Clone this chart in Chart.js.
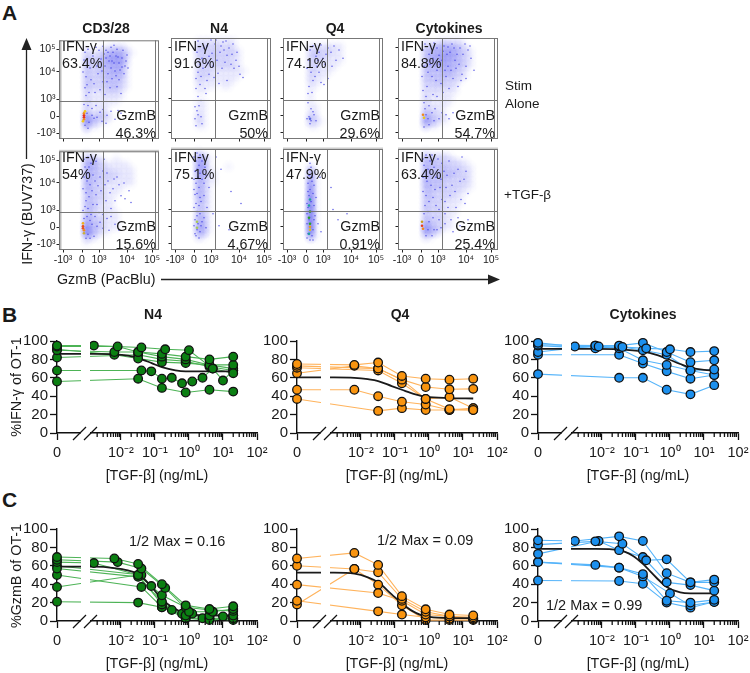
<!DOCTYPE html>
<html>
<head>
<meta charset="utf-8">
<title>TGF-b titration</title>
<style>
html,body{margin:0;padding:0;background:#fff;overflow:hidden;}
#fig{position:relative;width:750px;height:673px;font-family:"Liberation Sans",Arial,sans-serif;color:#1a1a1a;}
#fig canvas{position:absolute;}
#fig svg{position:absolute;left:0;top:0;}
.t{position:absolute;white-space:nowrap;line-height:1;}
</style>
<script src="https://cdn.jsdelivr.net/npm/chart.js@4"></script>
</head>
<body>
<div id="fig"></div>
<script>
// ==========================================================
// Panel A: flow plots. Channels run 0-100 on both axes,
// density rows are read top to bottom, 5 channels per cell
// ==========================================================

const flowTickX = [4,23,40,68,93];
const flowTickY = [6,23,40,68,91];
const flowTickLabels = ["-10³","0","10³","10⁴","10⁵"];
const flowGateX = 44;
const flowGateY = 39;

const ifnLabels = ["63.4%","91.6%","74.1%","84.8%","54%","75.1%","47.9%","63.4%"];
const gzmLabels = ["46.3%","50%","29.6%","54.7%","15.6%","4.67%","0.91%","25.4%"];

const densCd3Stim = ["00000000000000000000","00000100112221000000","00000211234442100000","00000322345552000000","00000322345552000000","00000322334441000000","00000322334441000000","00000322233331000000","00000322233321000000","00000322223321000000","00000211122210000000","00000211111110000000","00000211111100000000","00000211110000000000","00000311210000000000","00000633321000000000","00000743110000000000","00000411000000000000","00000100000000000000","00000000000000000000"];
const densN4Stim = ["00000111111110000000","00000222221210000000","00000322222221000000","00000222322221000000","00000232222211000000","00000222222221000000","00000222111111100000","00000222111111000000","00000211111110000000","00000111101100000000","00000110000000000000","00000000000000000000","00000110000000000000","00000110000000000000","00000110000000000000","00000210000000000000","00000210000000000000","00000110000000000000","00000000000000000000","00000000000000000000"];
const densQ4Stim = ["00000000000000000000","00000111111100000000","00000222221100000000","00000232211100000000","00000222111100000000","00000221111000000000","00000221110000000000","00000211100000000000","00000211000000000000","00000110000000000000","00000100000000000000","00000100000000000000","00000100000000000000","00000110000000000000","00000110000000000000","00000320000000000000","00000321000000000000","00000110000000000000","00000000000000000000","00000000000000000000"];
const densCytoStim = ["00000100111110000000","00000223343321000000","00000334445432100000","00000344555432100000","00000344554432100000","00000344444332100000","00000333344321000000","00000333333221000000","00000323322210000000","00000222222100000000","00000212111100000000","00000211111000000000","00000211111000000000","00000211110000000000","00000322100000000000","00000532210000000000","00000643110000000000","00000311000000000000","00000000000000000000","00000000000000000000"];
const densCd3Tgf = ["00000100000000000000","00000332100100000000","00000443211111000000","00000443221111100000","00000433222211100000","00000433222111100000","00000432211111100000","00000432211110000000","00000332211100000000","00000332211000000000","00000332111000000000","00000332111000000000","00000331111100000000","00000432211100000000","00000533211100000000","00000743211100000000","00000843110000000000","00000321000000000000","00000100000000000000","00000000000000000000"];
const densN4Tgf = ["00000100000000000000","00000431000000000000","00000541000000000000","00000551000100000000","00000541100000000000","00000441100000000000","00000431100000000000","00000431000000000000","00000431000000000000","00000431000000000000","00000331000000000000","00000321000000000000","00000331000000000000","00000431000000000000","00000441000000000000","00000541000000000000","00000441000000000000","00000210000000000000","00000000000000000000","00000000000000000000"];
const densQ4Tgf = ["00000000000000000000","00000000000000000000","00000000000000000000","00000200000000000000","00000410000000000000","00000510000000000000","00000610000000000000","00000710000000000000","00000710000000000000","00000810000000000000","00000810000000000000","00000810000000000000","00000910000000000000","00000910000000000000","00000910000000000000","00000910000000000000","00000810000000000000","00000410000000000000","00000000000000000000","00000000000000000000"];
const densCytoTgf = ["00000100000000000000","00000322221000000000","00000433222211000000","00000433332221100000","00000433333322100000","00000433333222100000","00000433322222100000","00000433322221100000","00000332222211000000","00000332222110000000","00000322211110000000","00000322211100000000","00000322211100000000","00000322211000000000","00000432211000000000","00000743211000000000","00000543100000000000","00000210000000000000","00000000000000000000","00000000000000000000"];

const dotsCd3Stim = [[26,88],[31,72],[28,55],[37,93],[42,81],[47,90],[51,84],[55,77],[58,91],[61,70],[49,66],[44,58],[36,47],[63,82],[66,74],[53,61],[27,44],[33,31],[41,27],[48,24],[56,20],[30,17],[62,26],[39,66],[46,74],[52,93],[57,64],[29,34],[35,21],[68,85],
    [25,80],[29,91],[34,84],[40,90],[45,86],[50,79],[54,88],[59,83],[64,90],[67,79],[24,68],[27,63],[32,60],[38,74],[43,69],[48,58],[52,72],[56,69],[60,60],[65,66],[69,72],[26,52],[30,47],[35,56],[41,50],[46,45],[51,52],[58,53],[62,46],[25,35],[31,38],[37,34],[44,30],[52,28],[59,29],[28,26],[33,24],[38,22],[43,18],[47,16],[26,14],[29,11],[53,79],[49,88],[44,94],[55,95],[60,77],[63,73],[57,84],[47,82]];
const dotsN4Stim = [[27,97],[33,90],[38,82],[44,94],[49,86],[54,76],[58,90],[63,70],[69,64],[72,61],[30,62],[25,50],[36,58],[42,72],[47,65],[52,96],[28,33],[24,20],[26,28],[31,15],[56,58],[61,84],[35,45],[40,98],[29,74],[65,78],
    [26,86],[31,80],[36,92],[41,85],[46,78],[51,70],[56,83],[60,74],[66,86],[27,66],[32,70],[37,75],[43,61],[48,55],[53,88],[25,60],[29,54],[34,50],[38,64],[45,98],[50,92],[55,97],[62,94],[68,72],[27,42],[30,38],[24,32],[27,24],[30,22],[25,13]];
const dotsQ4Stim = [[27,88],[33,82],[38,93],[42,74],[48,86],[53,78],[30,58],[25,45],[36,66],[45,60],[28,30],[24,20],[27,15],[31,24],[51,92],[41,54],[34,72],[60,80],
    [26,78],[30,92],[36,86],[40,80],[45,90],[49,72],[56,88],[28,66],[32,62],[38,56],[26,52],[29,46],[25,36],[30,27],[26,22],[28,18],[33,18],[35,78],[43,84],[24,70]];
const dotsCytoStim = [[25,88],[32,74],[36,95],[41,83],[46,92],[52,86],[57,78],[62,90],[68,72],[73,80],[48,62],[43,55],[29,52],[35,44],[55,60],[64,64],[27,30],[34,26],[41,20],[48,24],[31,14],[76,68],[60,52],[39,68],[24,62],[50,72],
    [27,94],[31,84],[35,80],[39,90],[44,78],[49,84],[54,94],[59,84],[65,84],[70,88],[26,72],[30,66],[34,62],[38,58],[42,74],[47,68],[53,68],[58,70],[63,58],[68,60],[25,48],[28,42],[33,38],[39,42],[45,46],[51,50],[26,36],[31,33],[37,30],[44,26],[51,20],[55,26],[28,24],[30,20],[36,18],[26,12],[72,92],[67,94],[61,74],[56,90],[45,87],[50,91]];
const dotsCd3Tgf = [[25,92],[30,84],[28,70],[34,76],[39,65],[44,80],[49,70],[54,62],[58,74],[62,55],[65,68],[47,50],[38,46],[32,36],[27,50],[41,28],[48,32],[56,26],[60,20],[35,14],[29,16],[24,40],[70,60],[52,42],[37,90],
    [26,84],[29,94],[32,88],[25,74],[28,78],[31,66],[24,62],[27,58],[30,54],[33,60],[36,70],[26,44],[29,42],[34,46],[37,56],[42,60],[46,66],[51,58],[56,50],[60,66],[41,74],[48,78],[55,72],[25,32],[28,34],[31,30],[36,34],[40,38],[44,36],[52,34],[33,26],[38,24],[44,22],[50,20],[27,12],[31,12],[66,52],[72,48],[45,92]];
const dotsN4Tgf = [[25,88],[29,94],[27,72],[33,66],[24,55],[30,48],[36,42],[26,34],[31,28],[24,16],[28,12],[38,62],[42,36],[50,80],[60,58],[48,24],[34,82],[70,46],[58,20],[35,22],
    [23,92],[26,96],[28,84],[31,88],[24,78],[26,80],[29,76],[23,70],[25,66],[28,62],[31,70],[23,60],[26,56],[29,52],[25,46],[28,44],[23,42],[26,38],[29,36],[24,30],[27,26],[30,24],[23,24],[26,20],[29,18],[25,14],[33,32],[33,54],[35,74],[45,92]];
const dotsQ4Tgf = [[26,80],[29,72],[31,64],[25,58],[33,52],[24,46],[32,34],[35,26],[24,12],[30,10],[37,72],[50,40],[64,36],[48,62],[55,30],[38,18],
    [27,86],[28,82],[26,74],[29,68],[25,66],[27,60],[30,56],[26,54],[28,48],[25,42],[31,44],[24,36],[29,38],[26,30],[31,30],[24,26],[30,20],[25,16],[29,14],[27,10]];
const dotsCytoTgf = [[25,90],[30,80],[34,94],[38,72],[44,86],[49,74],[54,64],[60,80],[66,70],[70,56],[47,48],[41,40],[35,52],[27,44],[31,28],[39,20],[47,26],[55,18],[62,24],[70,30],[34,14],[58,42],[64,92],[42,62],
    [26,84],[28,94],[32,88],[36,82],[40,90],[46,78],[51,88],[56,76],[62,68],[68,78],[25,72],[29,68],[33,64],[37,60],[43,70],[48,62],[52,54],[57,58],[63,50],[25,58],[28,54],[31,48],[38,44],[44,50],[50,42],[26,36],[30,38],[35,32],[41,30],[47,36],[53,30],[60,32],[30,20],[36,20],[43,22],[28,14],[67,46]];

const hotCd3Stim = [[25,24,"#e8301c"],[25,22,"#e8301c"],[25,26,"#f28a1c"],[25,20,"#f28a1c"],[26,28,"#f2c81c"],[24,18,"#f2c81c"]];
const hotN4Stim = [];
const hotQ4Stim = [[27,20,"#5a6ae0"]];
const hotCytoStim = [[25,24,"#f28a1c"],[26,21,"#e8c81c"]];
const hotCd3Tgf = [[24,24,"#e8501c"],[24,22,"#e8501c"],[25,20,"#f28a1c"],[24,27,"#f2b01c"],[25,17,"#c8b03c"]];
const hotN4Tgf = [[26,28,"#a8c85a"],[26,22,"#a8c85a"]];
const hotQ4Tgf = [[27,26,"#2ca02c"],[27,20,"#d8c020"],[26,32,"#2ca02c"],[27,38,"#2ca02c"],[26,44,"#1f9e9e"],[27,50,"#1f9e9e"],[26,16,"#1f9e9e"],[27,23,"#e8a01c"]];
const hotCytoTgf = [[24,24,"#e8401c"],[25,21,"#f28a1c"],[24,28,"#c8a01c"]];

// ==========================================================
// Panels B and C: donors as [dose ng/mL, percent], curve last
// ==========================================================

const ifnN4 = [
    [[0,95],[.0016,95],[.04,93],[.2,91],[1,90],[5,70],[20,65]],
    [[0,94],[.008,94],[.032,88],[.16,86],[.8,83],[4,80],[20,83]],
    [[0,90],[.0064,88],[.032,88],[.16,83],[.8,80],[4,74],[20,74]],
    [[0,91],[.0064,85],[.032,81],[.16,77],[.8,76],[4,74],[20,70]],
    [[0,82],[.032,85],[.16,80],[.8,78],[4,72],[20,68]],
    [[0,68],[.04,68],[.078,67],[.16,59],[.3125,60],[.625,54],[1.25,56],[2.5,60],[5,70],[10,57],[20,68]],
    [[0,56],[.032,59],[.16,49],[.8,44],[4,47],[20,45]]
];
const ifnN4Curve = [[0,86],[.0016,86],[.0064,85.5],[.016,84],[.032,81.5],[.08,76],[.16,71.5],[.4,68],[.8,67],[4,67],[20,67]];

const ifnQ4 = [
    [[0,75],[.0064,74],[.032,76.6],[.16,62],[.8,59],[4,58],[20,59]],
    [[0,73],[.032,70],[.16,58],[.8,50],[4,47.5],[20,48]],
    [[0,71],[.032,68],[.16,54],[.8,37],[4,26],[20,25]],
    [[0,65],[.0064,73],[.032,70],[.16,58],[.8,37],[4,39],[20,27]],
    [[0,47],[.0064,47],[.032,40],[.16,34],[.8,31],[4,25],[20,25]],
    [[0,37],[.032,24],[.16,27],[.8,25],[4,25],[20,27]]
];
const ifnQ4Curve = [[0,60.5],[.0016,60.5],[.0064,60],[.016,58.5],[.032,56.5],[.08,51],[.16,47],[.4,42],[.8,39.5],[4,38],[20,37.5]];

const ifnCyto = [
    [[0,98],[.0016,94],[.008,94],[.04,93.5],[.2,92],[1,91],[4,88],[20,89]],
    [[0,96],[.0064,95],[.032,95],[.16,98],[.8,88],[4,77],[20,79]],
    [[0,95],[.0064,92],[.032,94],[.16,90],[.8,85],[4,68],[20,69]],
    [[0,88],[.0064,95],[.032,92],[.16,79],[.8,74],[4,68],[20,63]],
    [[0,85],[.032,85],[.16,75.5],[.8,67],[4,59],[20,63]],
    [[0,64],[.032,60],[.16,60],[.8,47],[4,42],[20,52]]
];
const ifnCytoCurve = [[0,91.5],[.0064,91.5],[.032,91],[.16,88.5],[.4,85],[.8,81],[2,75],[4,71],[10,68.5],[20,68]];

const gzmN4 = [
    [[0,69.5],[.0064,68],[.032,62],[.16,40],[.8,17],[4,13],[20,16]],
    [[0,66.6],[.008,64],[.04,57],[.2,36],[1,10],[5,10],[20,13]],
    [[0,64],[.0016,63],[.032,50],[.16,28],[.8,15],[4,12],[20,11]],
    [[0,57],[.032,48],[.16,21],[.8,6],[4,6],[20,6]],
    [[0,37],[.032,50],[.16,18],[.8,3],[4,1],[20,3]],
    [[0,50],[.04,37],[.16,15],[.8,3],[4,3],[20,1]],
    [[0,21],[.032,20],[.16,15],[.8,6],[4,3],[20,3]],
    [[0,60],[.04,50],[.078,38],[.156,21],[.3125,12],[.625,8],[1.25,8],[2.5,3],[5,10],[10,5],[20,6]]
];
const gzmN4Curve = [[0,59],[.0016,59],[.0064,57.5],[.016,55],[.032,51],[.08,37],[.16,24],[.32,15],[.8,8.5],[4,6],[20,6]];

const gzmQ4 = [
    [[0,68],[.0064,74],[.032,61],[.16,27],[.8,12.7],[4,7],[20,6]],
    [[0,60],[.0064,56.5],[.032,53],[.16,24],[.8,10],[4,5],[20,4]],
    [[0,39.5],[.032,30.4],[.16,22],[.8,7],[4,5],[20,2.5]],
    [[0,22],[.032,10.5],[.16,7],[.8,4],[4,2.5],[20,2.5]],
    [[0,18],[.0064,56.5],[.032,39.5],[.16,17],[.8,1],[4,1],[20,1]]
];
const gzmQ4Curve = [[0,52.5],[.0016,52.5],[.0064,51.5],[.016,47.5],[.032,42],[.08,29],[.16,19],[.32,11],[.8,5],[4,3.3],[20,3]];

const gzmCyto = [
    [[0,87.7],[.0016,87],[.032,92],[.16,87],[.8,52],[4,42],[20,45]],
    [[0,83],[.0064,86.6],[.04,84],[.2,66],[.8,67],[4,42],[20,42]],
    [[0,73],[.008,87],[.032,77],[.16,69.5],[.8,42],[4,39],[20,33]],
    [[0,64],[.0064,61],[.032,58],[.16,51],[.8,22],[4,20],[20,23]],
    [[0,64],[.032,58],[.16,48.5],[1,30],[4,17],[20,20.6]],
    [[0,44],[.032,43.5],[.16,40.5],[.8,20],[4,14.5],[20,21]]
];
const gzmCytoCurve = [[0,78.5],[.0064,78.5],[.032,77],[.08,71],[.16,62],[.4,47],[.8,37],[2,31],[4,30],[20,30]];

const doseTickValues = [-3.88,-2,-1,0,1,2];
const doseTickLabels = ["0","10⁻²","10⁻¹","10⁰","10¹","10²"];

// ==========================================================
// Cores padrão
// ==========================================================

const CORES = {
    verde:{linha:"#4db356",ponto:"#0b7f12"},
    laranja:{linha:"#ffb35c",ponto:"#f9940f"},
    azul:{linha:"#55b4fa",ponto:"#1c90ee"},
    borda:"#777"
};

Chart.defaults.font.family = "'Liberation Sans', Arial, sans-serif";
Chart.defaults.color = "#1a1a1a";
Chart.defaults.animation = false;
Chart.defaults.plugins.legend.display = false;
Chart.defaults.plugins.tooltip.enabled = false;

const fig = document.getElementById("fig");

function addCanvas(left,top,width,height){
    const c = document.createElement("canvas");
    c.width = width;
    c.height = height;
    c.style.left = left+"px";
    c.style.top = top+"px";
    c.style.width = width+"px";
    c.style.height = height+"px";
    fig.appendChild(c);
    return c;
}

// anchor: "l" left, "c" centre, "r" right. y is the text middle
function addText(text,x,y,size,anchor,opts){
    opts = opts||{};
    const d = document.createElement("div");
    d.className = "t";
    d.textContent = text;
    d.style.left = x+"px";
    d.style.top = y+"px";
    d.style.fontSize = size+"px";
    if(opts.bold) d.style.fontWeight = "bold";
    const tx = anchor==="c" ? "-50%" : anchor==="r" ? "-100%" : "0";
    d.style.transform = "translate("+tx+",-50%)"+(opts.rotate?" rotate(-90deg)":"");
    fig.appendChild(d);
}

// ==========================================================
// PLUGIN: moldura e gates das parcelas de citometria
// ==========================================================

const flowFramePlugin = {

    id:"flowFrame",

    afterDraw(chart){

        const {ctx,chartArea:a,scales} = chart;
        const cfg = chart.options.plugins.flowFrame;

        ctx.save();

        if(cfg.leftBar){
            ctx.fillStyle = "#bbb";
            ctx.fillRect(a.left,a.top,2.5,a.bottom-a.top);
        }
        if(cfg.topBar){
            ctx.fillStyle = "#ccc";
            ctx.fillRect(a.left,a.top-1.5,a.right-a.left,2);
        }

        ctx.strokeStyle = CORES.borda;
        ctx.lineWidth = 1;
        ctx.strokeRect(a.left+.5,a.top+.5,a.right-a.left-1,a.bottom-a.top-1);

        ctx.beginPath();
        ctx.moveTo(a.right-3.5,a.top);
        ctx.lineTo(a.right-3.5,a.bottom);
        const gx = Math.round(scales.x.getPixelForValue(flowGateX))+.5;
        ctx.moveTo(gx,a.top);
        ctx.lineTo(gx,a.bottom);
        const gy = Math.round(scales.y.getPixelForValue(flowGateY))+.5;
        ctx.moveTo(a.left,gy);
        ctx.lineTo(a.right,gy);
        ctx.stroke();

        ctx.restore();

    }

};

// mancha suave para cada nível de densidade
const hazeSprites = {};

function hazeSprite(v){

    if(hazeSprites[v]) return hazeSprites[v];

    const c = document.createElement("canvas");
    c.width = 15;
    c.height = 15;
    const g = c.getContext("2d");
    const grad = g.createRadialGradient(7.5,7.5,0,7.5,7.5,7.5);
    grad.addColorStop(0,"rgba(85,85,240,"+(v*.062)+")");
    grad.addColorStop(1,"rgba(85,85,240,0)");
    g.fillStyle = grad;
    g.fillRect(0,0,15,15);

    hazeSprites[v] = c;
    return c;

}

function densityPoints(rows){

    const pontos = [];

    rows.forEach((linha,r)=>{

        linha.split("").forEach((cel,c)=>{

            if(cel==="0") return;

            pontos.push({x:c*5+2.5,y:100-r*5-2.5,v:Number(cel)});

        });

    });

    return pontos;

}

function criarFlow(left,top,dens,dots,hot,showY,showX,topBar){

    const canvas = addCanvas(left-28,top-4,28+102+3,4+102+18);
    const haze = densityPoints(dens);

    new Chart(canvas,{

        type:"scatter",

        data:{

            datasets:[
                {
                    data:hot.map(p=>({x:p[0],y:p[1]})),
                    pointRadius:1.3,
                    pointBackgroundColor:hot.map(p=>p[2]),
                    pointBorderWidth:0,
                    order:1
                },
                {
                    data:dots.map(p=>({x:p[0],y:p[1]})),
                    pointRadius:.75,
                    pointBackgroundColor:"rgba(50,50,225,.8)",
                    pointBorderWidth:0,
                    order:2
                },
                {
                    data:haze,
                    pointRadius:4,
                    pointStyle:haze.map(p=>hazeSprite(p.v)),
                    clip:false,
                    order:3
                }
            ]

        },

        options:{

            responsive:false,

            layout:{padding:{top:4,right:3}},

            plugins:{
                flowFrame:{leftBar:showY,topBar:topBar}
            },

            scales:{

                x:{
                    type:"linear",
                    min:0,
                    max:100,
                    afterFit(s){s.height = 18;},
                    afterBuildTicks(s){s.ticks = flowTickX.map(v=>({value:v}));},
                    border:{display:false},
                    grid:{drawOnChartArea:false,tickLength:2.5,tickColor:"#222"},
                    ticks:{
                        display:showX,
                        autoSkip:false,
                        maxRotation:0,
                        padding:1,
                        font:{size:10.5},
                        callback:(v,i)=>flowTickLabels[i]
                    }
                },

                y:{
                    type:"linear",
                    min:0,
                    max:100,
                    afterFit(s){s.width = 28;},
                    afterBuildTicks(s){s.ticks = flowTickY.map(v=>({value:v}));},
                    border:{display:false},
                    grid:{drawOnChartArea:false,tickLength:2.5,tickColor:"#222"},
                    ticks:{
                        display:showY,
                        autoSkip:false,
                        padding:1,
                        font:{size:10.5},
                        callback:(v,i)=>flowTickLabels[i]
                    }
                }

            }

        },

        plugins:[flowFramePlugin]

    });

}

// ==========================================================
// PLUGIN: quebra do eixo e ticks menores do eixo de dose
// ==========================================================

const doseAxisPlugin = {

    id:"doseAxis",

    afterDatasetsDraw(chart){

        const {ctx,chartArea:a,scales} = chart;
        const x0 = a.left;
        const yAxis = a.bottom;

        ctx.save();

        // intervalo branco sobre linhas e eixo
        ctx.fillStyle = "#fff";
        ctx.fillRect(x0+24,a.top-4,9,yAxis-a.top+6);

        ctx.strokeStyle = "#111";
        ctx.lineWidth = 1.3;

        ctx.beginPath();
        ctx.moveTo(x0+16,yAxis+7);
        ctx.lineTo(x0+29,yAxis-6);
        ctx.moveTo(x0+27,yAxis+7);
        ctx.lineTo(x0+40,yAxis-6);

        for(let dec=-3;dec<2;dec++){
            for(let k=2;k<10;k++){
                const px = scales.x.getPixelForValue(dec+Math.log10(k));
                ctx.moveTo(px,yAxis);
                ctx.lineTo(px,yAxis+4);
            }
        }
        ctx.stroke();

        ctx.restore();

    }

};

const toAxis = d => d===0 ? doseTickValues[0] : Math.log10(d);
const toXY = serie => serie.map(p=>({x:toAxis(p[0]),y:p[1]}));

function criarDose(axisX,y100,doadores,curva,cor){

    const canvas = addCanvas(axisX-50,y100-12,50+200+24,12+92+36);

    const linhas = doadores.map(d=>({
        data:toXY(d),
        borderColor:cor.linha,
        borderWidth:1.1,
        pointRadius:0,
        tension:0,
        clip:false,
        order:3
    }));

    const pontos = doadores.map(d=>({
        data:toXY(d),
        showLine:false,
        pointRadius:4.3,
        pointBackgroundColor:cor.ponto,
        pointBorderColor:"#111",
        pointBorderWidth:1.3,
        clip:false,
        order:1
    }));

    new Chart(canvas,{

        type:"line",

        data:{

            datasets:[
                ...linhas,
                {
                    data:toXY(curva),
                    borderColor:"#1a1a1a",
                    borderWidth:1.8,
                    pointRadius:0,
                    cubicInterpolationMode:"monotone",
                    clip:false,
                    order:2
                },
                ...pontos
            ]

        },

        options:{

            responsive:false,

            layout:{padding:{top:12,right:24}},

            scales:{

                x:{
                    type:"linear",
                    min:doseTickValues[0],
                    max:2,
                    afterFit(s){s.height = 36;},
                    afterBuildTicks(s){s.ticks = doseTickValues.map(v=>({value:v}));},
                    border:{color:"#111",width:1.4},
                    grid:{drawOnChartArea:false,tickLength:7,tickColor:"#111",tickWidth:1.3},
                    ticks:{
                        autoSkip:false,
                        maxRotation:0,
                        padding:4,
                        color:"#1a1a1a",
                        font:{size:14.5},
                        callback:(v,i)=>doseTickLabels[i]
                    }
                },

                y:{
                    type:"linear",
                    min:0,
                    max:100,
                    afterFit(s){s.width = 50;},
                    afterBuildTicks(s){s.ticks = [0,20,40,60,80,100].map(v=>({value:v}));},
                    border:{color:"#111",width:1.4},
                    grid:{drawOnChartArea:false,tickLength:7,tickColor:"#111",tickWidth:1.3},
                    ticks:{
                        autoSkip:false,
                        padding:2,
                        color:"#1a1a1a",
                        font:{size:15}
                    }
                }

            }

        },

        plugins:[doseAxisPlugin]

    });

}

// ==========================================================
// Montagem
// ==========================================================

const flowLefts = [59,171,283,398];

[[densCd3Stim,dotsCd3Stim,hotCd3Stim],[densN4Stim,dotsN4Stim,hotN4Stim],[densQ4Stim,dotsQ4Stim,hotQ4Stim],[densCytoStim,dotsCytoStim,hotCytoStim]].forEach((p,i)=>{
    criarFlow(flowLefts[i],37,p[0],p[1],p[2],i===0,false,false);
});
[[densCd3Tgf,dotsCd3Tgf,hotCd3Tgf],[densN4Tgf,dotsN4Tgf,hotN4Tgf],[densQ4Tgf,dotsQ4Tgf,hotQ4Tgf],[densCytoTgf,dotsCytoTgf,hotCytoTgf]].forEach((p,i)=>{
    criarFlow(flowLefts[i],148,p[0],p[1],p[2],i===0,true,true);
});

[37,148].forEach((top,row)=>{
    flowLefts.forEach((left,i)=>{
        const k = row*4+i;
        addText("IFN-γ",left+3,top+9,14.3,"l");
        addText(ifnLabels[k],left+3,top+26,14.3,"l");
        addText("GzmB",left+97,top+78,14.3,"r");
        addText(gzmLabels[k],left+97,top+96,14.3,"r");
    });
});

["CD3/28","N4","Q4","Cytokines"].forEach((t,i)=>{
    addText(t,[106,219,335,449][i],28,14,"c",{bold:true});
});

addText("Stim",505,86,13.5,"l");
addText("Alone",505,104,13.5,"l");
addText("+TGF-β",504,195,13.5,"l");
addText("IFN-γ (BUV737)",27,214,14.3,"c",{rotate:true});
addText("GzmB (PacBlu)",57,279,14.3,"l");

addText("A",2,12,21,"l",{bold:true});
addText("B",2,314,21,"l",{bold:true});
addText("C",2,499,21,"l",{bold:true});

[[57,CORES.verde],[297,CORES.laranja],[538,CORES.azul]].forEach((c,i)=>{
    criarDose(c[0],341,[ifnN4,ifnQ4,ifnCyto][i],[ifnN4Curve,ifnQ4Curve,ifnCytoCurve][i],c[1]);
    criarDose(c[0],529,[gzmN4,gzmQ4,gzmCyto][i],[gzmN4Curve,gzmQ4Curve,gzmCytoCurve][i],c[1]);
});

["N4","Q4","Cytokines"].forEach((t,i)=>{
    addText(t,[153,400,643][i],314,14,"c",{bold:true});
});
[157,397,638].forEach(x=>{
    addText("[TGF-β] (ng/mL)",x,475,14.3,"c");
    addText("[TGF-β] (ng/mL)",x,663,14.3,"c");
});

addText("%IFN-γ of OT-1",16,387,14.3,"c",{rotate:true});
addText("%GzmB of OT-1",16,576,14.3,"c",{rotate:true});

addText("1/2 Max = 0.16",129,541,14.5,"l");
addText("1/2 Max = 0.09",377,540,14.5,"l");
addText("1/2 Max = 0.99",546,605,14.5,"l");

// setas dos eixos
fig.insertAdjacentHTML("beforeend",
    '<svg width="750" height="673">'+
    '<line x1="26.5" y1="48" x2="26.5" y2="159" stroke="#222" stroke-width="1.3"/>'+
    '<polygon points="26.5,38 21.5,50 31.5,50" fill="#222"/>'+
    '<line x1="161" y1="279.5" x2="490" y2="279.5" stroke="#222" stroke-width="1.3"/>'+
    '<polygon points="500,279.5 488,274.5 488,284.5" fill="#222"/>'+
    '</svg>');

console.log("Charts carregado!");
</script>
</body>
</html>
